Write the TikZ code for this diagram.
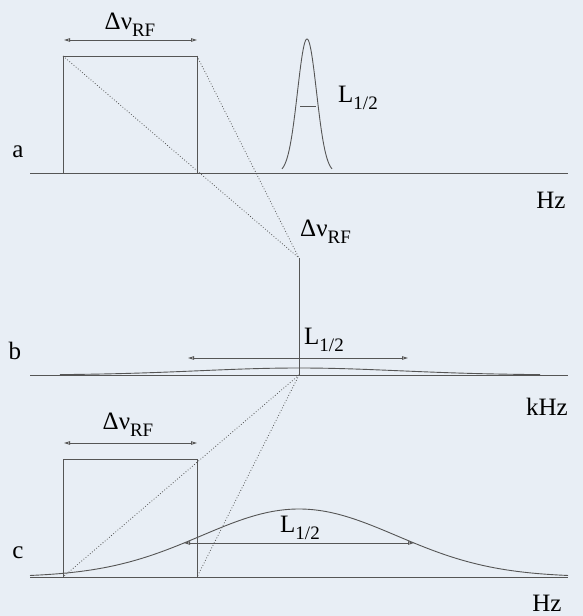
\documentclass[tikz,border=0pt]{standalone}
\usepackage{fontspec}
\setmainfont{Liberation Serif}
\usetikzlibrary{arrows.meta}
\definecolor{bgc}{HTML}{E8EEF5}
\definecolor{lnc}{HTML}{555555}
\newcommand\mysb[1]{\raisebox{-0.28em}{\fontsize{19}{20}\selectfont #1}}
\begin{document}
\begin{tikzpicture}[x=1pt,y=-1pt,
  every node/.style={inner sep=0pt,font=\fontsize{25}{28}\selectfont,text=black},
  ln/.style={draw=lnc,line width=0.9pt},
  dotl/.style={draw=lnc,line width=0.8pt,dotted},
  dim/.style={draw=lnc,line width=0.9pt,{Triangle[length=6pt,width=3.5pt,fill=white]}-{Triangle[length=6pt,width=3.5pt,fill=white]}},
  half/.style={draw=lnc,line width=0.9pt}]
\fill[bgc] (0,0) rectangle (583,616);
\useasboundingbox (0,0) rectangle (583,616);
% ---------- panel a
\coordinate (aL) at (30,173); \coordinate (aR) at (568,173);
\coordinate (aTL) at (63,56); \coordinate (aTR) at (197,56);
\coordinate (aBL) at (63,173); \coordinate (aBR) at (197,173);
\draw[ln] (aL) -- (aR);
\draw[ln] (aBL) -- (aTL) -- (aTR) -- (aBR);
\coordinate (aDL) at (64,40); \coordinate (aDR) at (197,40);
\draw[dim] (aDL) -- (aDR);
\node (dA) at (130,25) {Δν\mysb{RF}};
\node (labA) at (18,152) {a};
\draw[ln] plot[domain=282:332,samples=120,smooth] (\x,{173-134*exp(-0.5*((\x-307)/9.5)^2)});
\coordinate (hA1) at (300,106); \coordinate (hA2) at (316,106);
\draw[half] (hA1) -- (hA2);
\node[anchor=west] (LA) at (338,98) {L\mysb{1/2}};
\node (hzA) at (551,200) {Hz};
% ---------- panel b
\coordinate (bL) at (30,375); \coordinate (bR) at (568,375);
\coordinate (bTop) at (299,258); \coordinate (bBase) at (299,375);
\draw[ln] (bL) -- (bR);
\draw[ln] plot[domain=60:540,samples=120,smooth] (\x,{375-7*exp(-0.5*((\x-299)/100)^2)});
\draw[ln] (bBase) -- (bTop);
\node[anchor=west] (dB) at (300,232) {Δν\mysb{RF}};
\node (labB) at (15,351) {b};
\coordinate (bDL) at (188,358); \coordinate (bDR) at (408,358);
\draw[dim] (bDL) -- (bDR);
\node[anchor=west] (LB) at (304,340) {L\mysb{1/2}};
\node (hzB) at (547,407) {kHz};
% ---------- panel c
\coordinate (cL) at (30,577); \coordinate (cR) at (568,577);
\coordinate (cTL) at (63,459); \coordinate (cTR) at (197,459);
\coordinate (cBL) at (63,577); \coordinate (cBR) at (197,577);
\draw[ln] (cL) -- (cR);
\draw[ln] (cBL) -- (cTL) -- (cTR) -- (cBR);
\coordinate (cDL) at (64,443); \coordinate (cDR) at (197,443);
\draw[dim] (cDL) -- (cDR);
\node (dC) at (128,425) {Δν\mysb{RF}};
\node (labC) at (18,553) {c};
\draw[ln] plot[domain=30:568,samples=150,smooth] (\x,{577-68*exp(-0.5*((\x-299)/97.7)^2)});
\coordinate (cH1) at (184,543); \coordinate (cH2) at (414,543);
\draw[dim] (cH1) -- (cH2);
\node (LC) at (300,528) {L\mysb{1/2}};
\node (hzC) at (547,603) {Hz};
% ---------- dotted projections
\draw[dotl] (aTL) -- (bTop);
\draw[dotl] (aTR) -- (bTop);
\draw[dotl] (bBase) -- (cBL);
\draw[dotl] (bBase) -- (cBR);
\end{tikzpicture}
\end{document}
